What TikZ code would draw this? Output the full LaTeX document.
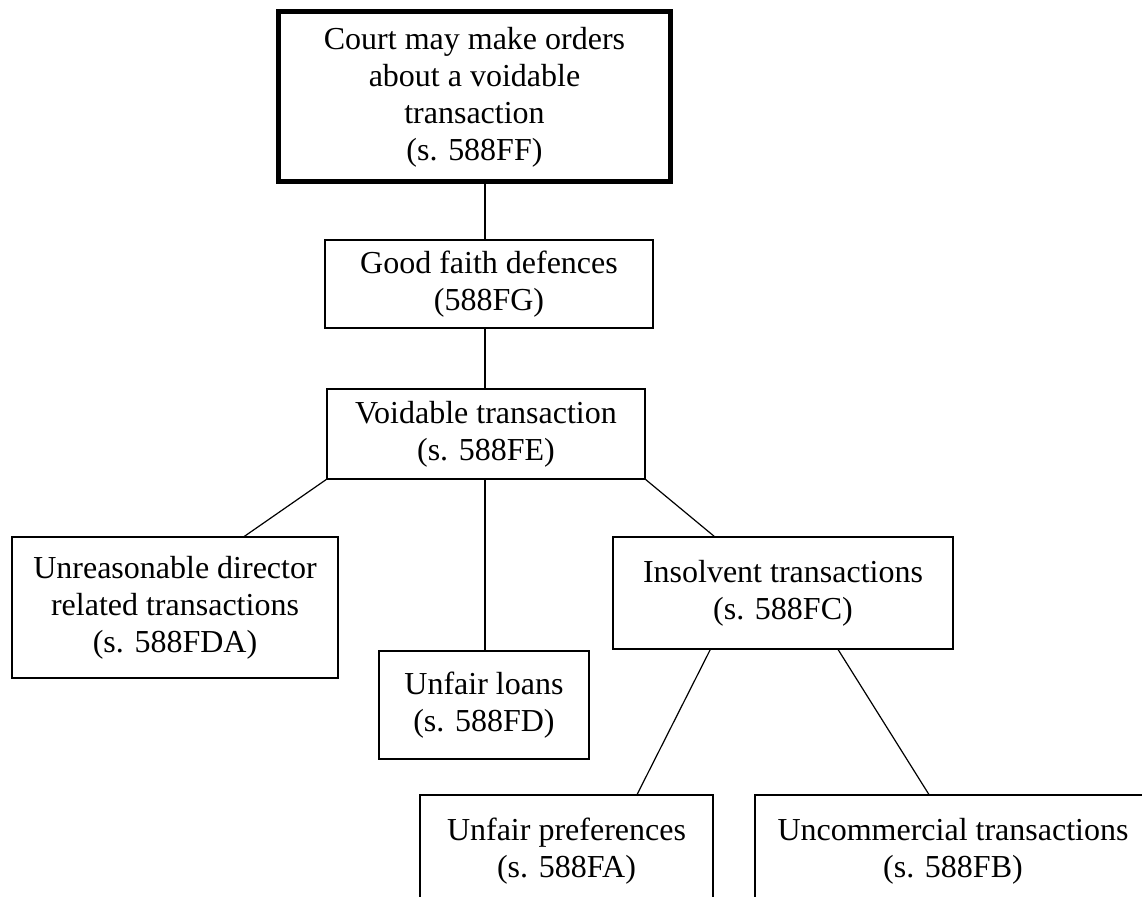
\documentclass[tikz,border=0pt]{standalone}
\usepackage{fontspec}
\setmainfont{Liberation Serif}
\usetikzlibrary{positioning,calc}

\begin{document}
\begin{tikzpicture}[
  x=0.5pt, y=-0.5pt,
  every node/.style={font=\fontsize{16}{18.5}\selectfont, align=center, inner sep=2pt, outer sep=0pt},
  box/.style={draw, line width=1pt},
  topbox/.style={draw, line width=2.5pt},
  link/.style={line width=0.6pt}
]
\useasboundingbox (0,0) rectangle (1142,897);
\clip (0,0) rectangle (1142,897);
\fill[white] (0,0) rectangle (1142,897);

% boxes
\node[topbox, minimum width=196pt, minimum height=85pt] (court) at (474.5,97) {Court may make orders\\about a voidable\\transaction\\(s. 588FF)};
\node[box, minimum width=164pt, minimum height=44pt] (faith) at (489,284.5) {Good faith defences\\(588FG)};
\node[box, minimum width=159pt, minimum height=45pt] (voidable) at (486,434) {Voidable transaction\\(s. 588FE)};
\node[box, minimum width=163pt, minimum height=70.5pt] (director) at (175,607.5) {Unreasonable director\\related transactions\\(s. 588FDA)};
\node[box, minimum width=170pt, minimum height=56pt] (insolvent) at (783,593) {Insolvent transactions\\(s. 588FC)};
\node[box, minimum width=105pt, minimum height=54pt] (loans) at (484,705) {Unfair loans\\(s. 588FD)};
% the last two run off the bottom (and right) of the page
\node[box, minimum width=146.5pt, minimum height=56pt] (prefs) at (566.5,851) {Unfair preferences\\(s. 588FA)};
\node[box, minimum width=198pt, minimum height=56pt] (uncomm) at (953,851) {Uncommercial transactions\\(s. 588FB)};

% connectors
\coordinate (spine) at (485,0);
\draw[link] (court.south -| spine) -- (faith.north -| spine);
\draw[link] (faith.south -| spine) -- (voidable.north -| spine);
\draw[link] (voidable.south -| spine) -- (loans.north -| spine);
\draw[link] (voidable.south west) -- ($(director.north west)!0.71!(director.north east)$);
\draw[link] (voidable.south east) -- ($(insolvent.north west)!0.3!(insolvent.north east)$);
\draw[link] ($(insolvent.south west)!0.287!(insolvent.south east)$) -- ($(prefs.north west)!0.74!(prefs.north east)$);
\draw[link] ($(insolvent.south west)!0.661!(insolvent.south east)$) -- ($(uncomm.north west)!0.44!(uncomm.north east)$);
\end{tikzpicture}
\end{document}
